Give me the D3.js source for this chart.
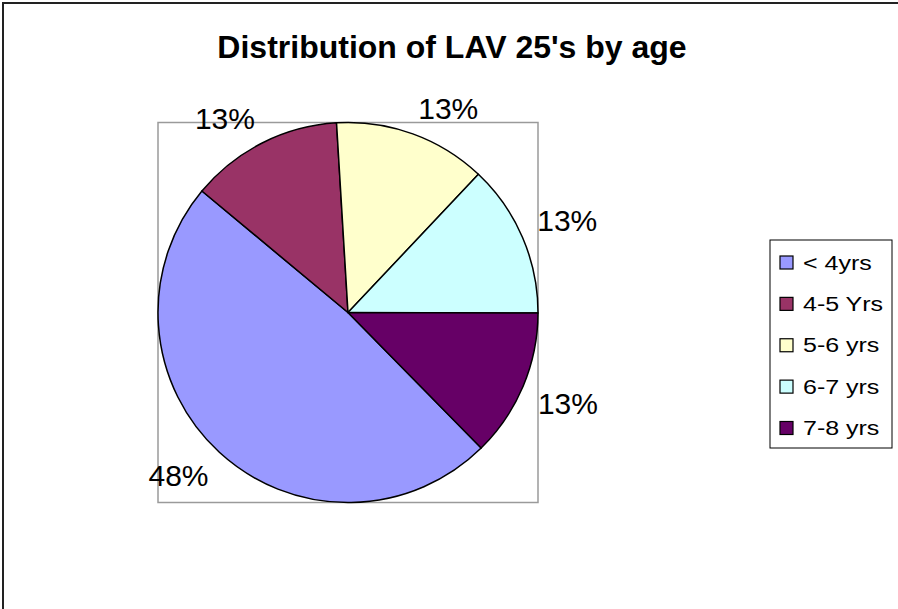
<!DOCTYPE html>
<html>
<head>
<meta charset="utf-8">
<script src="https://cdn.jsdelivr.net/npm/d3@7"></script>
<style>
  html, body { margin: 0; padding: 0; background: #fff; }
  text { font-family: "Liberation Sans", Arial, sans-serif; }
</style>
</head>
<body>
<div id="chart"></div>
<script>
// chart data
const categories = ["< 4yrs", "4-5 Yrs", "5-6 yrs", "6-7 yrs", "7-8 yrs"];
const shares = [48.4, 13.0, 13.0, 13.0, 12.6];
const colors = ["#9999ff", "#993366", "#ffffcc", "#ccffff", "#660066"];
const title = "Distribution of LAV 25's by age";

const width = 898;
const height = 609;
const cx = 348, cy = 312.5, radius = 190;
const firstSliceDeg = 135.5;

const svg = d3.select("#chart")
  .append("svg")
  .attr("width", width)
  .attr("height", height);

// outer chart frame (right/bottom run off the page)
svg.append("rect")
  .attr("x", 3)
  .attr("y", 3)
  .attr("width", 1200)
  .attr("height", 1200)
  .attr("fill", "none")
  .attr("stroke", "#222")
  .attr("stroke-width", 2);

svg.append("text")
  .attr("x", 452)
  .attr("y", 58)
  .attr("text-anchor", "middle")
  .attr("font-size", 32)
  .attr("font-weight", "bold")
  .text(title);

// plot area box
svg.append("rect")
  .attr("x", cx - radius)
  .attr("y", cy - radius)
  .attr("width", radius * 2)
  .attr("height", radius * 2)
  .attr("fill", "none")
  .attr("stroke", "#9a9a9a")
  .attr("stroke-width", 1.5);

const start = firstSliceDeg * Math.PI / 180;
const pie = d3.pie()
  .sort(null)
  .value(d => d)
  .startAngle(start)
  .endAngle(start + 2 * Math.PI);

const arcs = pie(shares);
const arc = d3.arc().innerRadius(0).outerRadius(radius);
const total = d3.sum(shares);
const pct = d3.format(".0%");

const g = svg.append("g").attr("transform", `translate(${cx},${cy})`);

g.selectAll("path")
  .data(arcs)
  .enter()
  .append("path")
  .attr("d", arc)
  .attr("fill", (d, i) => colors[i])
  .attr("stroke", "#000")
  .attr("stroke-width", 1.5)
  .attr("stroke-linejoin", "round");

// outside-end labels: the label corner nearest the pie sits on the mid angle
const labelR = 206;
const capH = 22;
const mid = d => (d.startAngle + d.endAngle) / 2;

g.selectAll("text.lbl")
  .data(arcs)
  .enter()
  .append("text")
  .attr("class", "lbl")
  .attr("x", d => labelR * Math.sin(mid(d)))
  .attr("y", d => {
    const y = -labelR * Math.cos(mid(d));
    return Math.cos(mid(d)) > 0 ? y : y + capH;
  })
  .attr("text-anchor", d => Math.sin(mid(d)) > 0 ? "start" : "end")
  .attr("font-size", 30)
  .text(d => pct(d.value / total));

// legend
const legend = svg.append("g").attr("transform", "translate(770,240)");
legend.append("rect")
  .attr("width", 122)
  .attr("height", 208)
  .attr("fill", "#fff")
  .attr("stroke", "#000")
  .attr("stroke-width", 1);

const rowY = d3.scalePoint()
  .domain(categories)
  .range([22.5, 188])
  .padding(0);

const item = legend.selectAll("g.item")
  .data(categories)
  .enter()
  .append("g")
  .attr("class", "item")
  .attr("transform", d => `translate(0,${rowY(d)})`);

item.append("rect")
  .attr("x", 10)
  .attr("y", -6.5)
  .attr("width", 13)
  .attr("height", 13)
  .attr("fill", (d, i) => colors[i])
  .attr("stroke", "#000")
  .attr("stroke-width", 1.2);

item.append("text")
  .attr("transform", "translate(33,0) scale(1.25,1)")
  .attr("dy", "0.36em")
  .attr("font-size", 20)
  .text(d => d);
</script>
</body>
</html>
